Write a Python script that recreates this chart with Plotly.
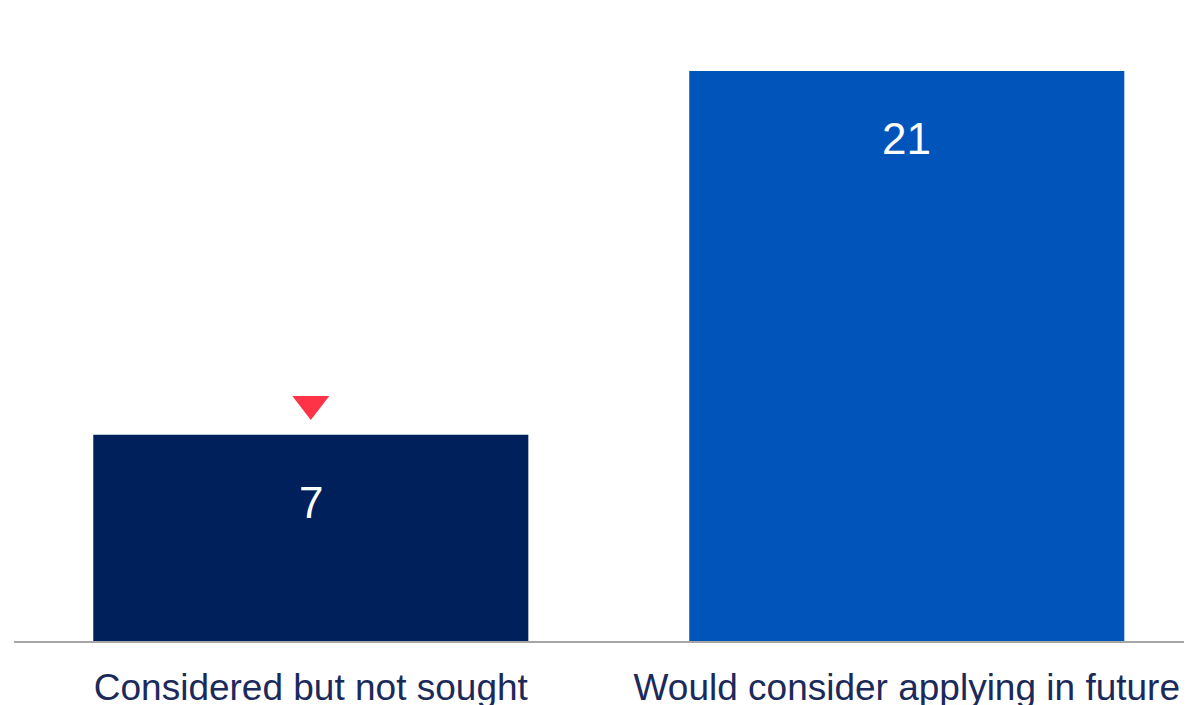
import plotly.graph_objects as go

categories = ["Considered but not sought", "Would consider applying in future"]
bar_heights = [7.6, 21.0]
value_labels = ["7", "21"]
bar_colors = ["#00205C", "#0054BA"]
flag_category = ["Considered but not sought"]
flag_level = [8.73]

fig = go.Figure()
fig.add_trace(go.Bar(
    x=categories, y=bar_heights, width=0.73,
    marker=dict(color=bar_colors, line=dict(width=0)),
    hoverinfo="skip", showlegend=False,
))
fig.add_trace(go.Scatter(
    x=flag_category, y=flag_level, mode="markers",
    marker=dict(symbol="triangle-down", size=32, color="#FF3347", line=dict(width=0)),
    hoverinfo="skip", showlegend=False,
))
for c, v, t in zip(categories, bar_heights, value_labels):
    fig.add_annotation(x=c, y=v, text=t, showarrow=False, yanchor="middle",
                       yshift=-68, font=dict(size=44, color="white",
                                             family="Liberation Sans, Arial, sans-serif"))

fig.update_layout(
    width=1192, height=705,
    margin=dict(l=6, r=0, t=0, b=72),
    paper_bgcolor="white", plot_bgcolor="white",
    font=dict(family="Liberation Sans, Arial, sans-serif"),
    xaxis=dict(range=[-0.498, 1.492], showline=True, linecolor="#A6A6A6", linewidth=1.5,
               showgrid=False, zeroline=False, ticks="",
               tickfont=dict(size=37, color="#1B2A5B"), ticklabelstandoff=13),
    yaxis=dict(range=[0, 23.32], visible=False, showgrid=False, zeroline=False),
)
fig.write_html("out.html")
